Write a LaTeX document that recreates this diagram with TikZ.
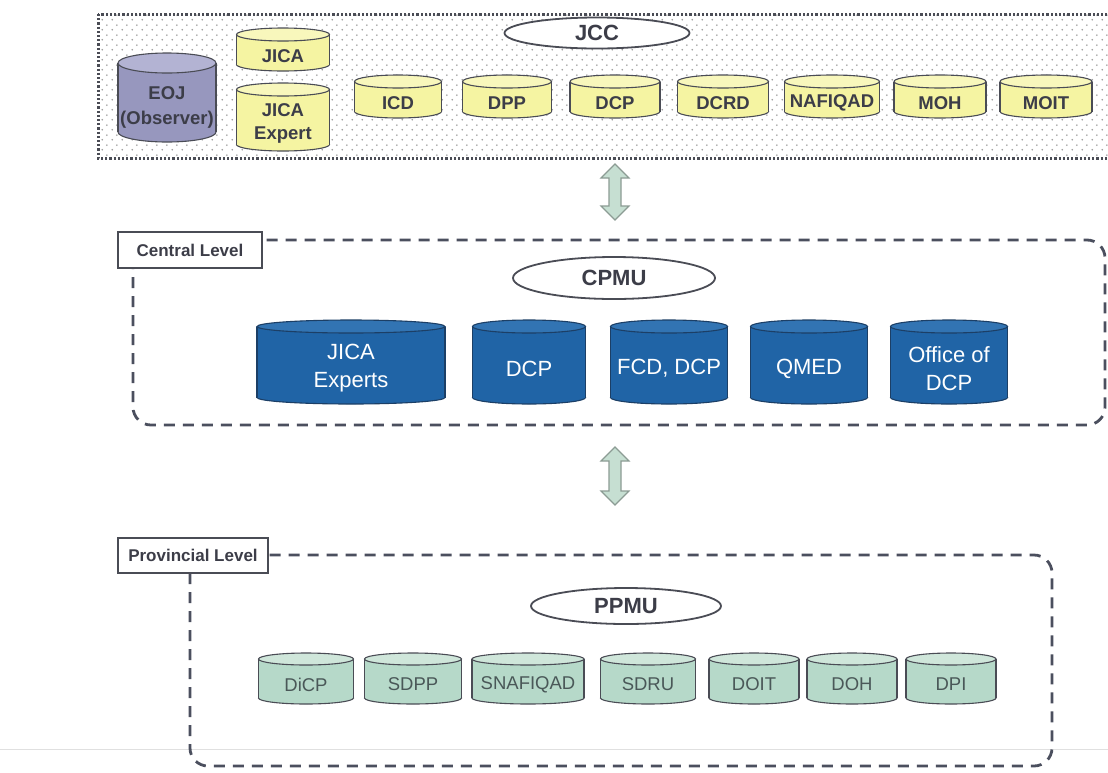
\documentclass[tikz,border=0pt]{standalone}
\usepackage{fontspec}
\setmainfont{Liberation Sans}
\usetikzlibrary{shapes.geometric,patterns.meta}

\definecolor{cText}{HTML}{3C3D48}
\definecolor{cEdge}{HTML}{4A4C55}
\definecolor{cDash}{HTML}{4B4F5E}
\definecolor{cYelBody}{HTML}{F5F4A2}
\definecolor{cYelTop}{HTML}{F8F7BC}
\definecolor{cEojBody}{HTML}{9797BE}
\definecolor{cEojTop}{HTML}{B3B3D3}
\definecolor{cBluBody}{HTML}{2064A6}
\definecolor{cBluTop}{HTML}{3274B3}
\definecolor{cBluEdge}{HTML}{1C3F66}
\definecolor{cGrnBody}{HTML}{B6D9C9}
\definecolor{cGrnTop}{HTML}{CFE6DA}
\definecolor{cGrnText}{HTML}{4A5858}
\definecolor{cArrow}{HTML}{C6DFD2}
\definecolor{cArrowEdge}{HTML}{8C9C94}

\tikzdeclarepattern{
  name=jccdots,
  type=uncolored,
  bounding box={(0pt,0pt) and (10pt,10pt)},
  tile size={(10pt,10pt)},
  code={\pgfpathcircle{\pgfpoint{2.5pt}{2.5pt}}{0.95pt}\pgfusepath{fill}
        \pgfpathcircle{\pgfpoint{7.5pt}{7.5pt}}{0.95pt}\pgfusepath{fill}}
}

\tikzset{
  cylline/.style={line width=1.1pt},
  yelbody/.style={cylline, draw=cEdge, fill=cYelBody},
  yeltop/.style={cylline, draw=cEdge, fill=cYelTop},
  yeltext/.style={font=\bfseries\fontsize{18.5}{23}\selectfont, text=cText, align=center, inner sep=0pt},
  eojbody/.style={cylline, draw=cEdge, fill=cEojBody},
  eojtop/.style={cylline, draw=cEdge, fill=cEojTop},
  eojtext/.style={font=\bfseries\fontsize{18.5}{25}\selectfont, text=cText, align=center, inner sep=0pt},
  blubody/.style={cylline, draw=cBluEdge, fill=cBluBody},
  blutop/.style={cylline, draw=cBluEdge, fill=cBluTop},
  blutext/.style={font=\fontsize{22}{28}\selectfont, text=white, align=center, inner sep=0pt},
  grnbody/.style={cylline, draw=cEdge, fill=cGrnBody},
  grntop/.style={cylline, draw=cEdge, fill=cGrnTop},
  grntext/.style={font=\fontsize{18.5}{21}\selectfont, text=cGrnText, align=center, inner sep=0pt},
  unitoval/.style={ellipse, draw=cEdge, line width=1.8pt, fill=white, inner sep=0pt,
                   font=\bfseries\fontsize{22}{24}\selectfont, text=cText},
  levelbox/.style={rectangle, draw=cEdge, line width=1.4pt, fill=white, inner sep=0pt,
                   font=\bfseries\fontsize{17}{19}\selectfont, text=cText},
  levelframe/.style={draw=cDash, line width=2.8pt, dash pattern=on 11pt off 8pt, rounded corners=18pt},
  jccframe/.style={draw=cEdge, line width=3pt, dash pattern=on 2.2pt off 2pt,
                   pattern={jccdots}, pattern color=black!40},
  fatarrow/.style={draw=cArrowEdge, line width=1.2pt, fill=cArrow, line join=miter},
}

% name, cx, outer top, outer bottom, width, family, text, end radius
\newcommand{\cylnode}[8]{%
  \pgfmathsetmacro\cylRx{#5/2}%
  \pgfmathsetmacro\cylT{#3+#8}%
  \pgfmathsetmacro\cylB{#4-#8}%
  \pgfmathsetmacro\cylL{#2-#5/2}%
  \pgfmathsetmacro\cylRr{#2+#5/2}%
  \pgfmathsetmacro\cylM{(#3+#4)/2+#8}%
  \filldraw[#6body] (#2,\cylB) ellipse [x radius=\cylRx pt, y radius=#8 pt];
  \fill[#6body, draw=none] (\cylL,\cylT) rectangle (\cylRr,\cylB);
  \draw[#6body, fill=none] (\cylL,\cylT) -- (\cylL,\cylB) (\cylRr,\cylT) -- (\cylRr,\cylB);
  \filldraw[#6top] (#2,\cylT) ellipse [x radius=\cylRx pt, y radius=#8 pt];
  \node[#6text] (#1) at (#2,\cylM) {#7};
}

\begin{document}
\begin{tikzpicture}[x=1pt, y=-1pt]
\useasboundingbox (0,0) rectangle (1108,772);
\clip (0,0) rectangle (1108,772);
\fill[white] (0,0) rectangle (1108,772);

% faint scan line
\draw[black!12, line width=0.8pt] (0,749) -- (1108,749);

% ===== JCC level =====
\draw[jccframe] (98,14) rectangle (1116,158);
\node[unitoval, minimum width=185pt, minimum height=31pt] (jcc) at (597,33) {JCC};

\cylnode{eoj}{167}{53}{142}{98}{eoj}{EOJ\\(Observer)}{10}
\cylnode{jica}{283}{28}{71}{93}{yel}{JICA}{6.5}
\cylnode{jicaexp}{283}{83}{151}{93}{yel}{JICA\\Expert}{6.5}
\cylnode{icd}{398}{75}{118}{87}{yel}{ICD}{6.5}
\cylnode{dpp}{507}{75}{118}{89}{yel}{DPP}{6.5}
\cylnode{dcpj}{615}{75}{118}{90}{yel}{DCP}{6.5}
\cylnode{dcrd}{723}{75}{118}{91}{yel}{DCRD}{6.5}
\cylnode{nafiqad}{832}{75}{118}{95}{yel}{NAFIQAD}{6.5}
\cylnode{moh}{940}{75}{118}{92}{yel}{MOH}{6.5}
\cylnode{moit}{1046}{75}{118}{92}{yel}{MOIT}{6.5}

% ===== Central level =====
\draw[levelframe] (133,240) rectangle (1105,425);
\node[levelbox, minimum width=144pt, minimum height=36pt] (central) at (190,250) {Central Level};
\node[unitoval, minimum width=202pt, minimum height=42pt] (cpmu) at (614,278) {CPMU};

\cylnode{jicaexperts}{351}{320}{404}{188}{blu}{JICA\\Experts}{6.5}
\cylnode{dcpc}{529}{320}{404}{113}{blu}{DCP}{6.5}
\cylnode{fcd}{669}{320}{404}{117}{blu}{FCD, DCP}{6.5}
\cylnode{qmed}{809}{320}{404}{117}{blu}{QMED}{6.5}
\cylnode{office}{949}{320}{404}{117}{blu}{Office of\\DCP}{6.5}

% ===== Provincial level =====
\draw[levelframe] (190,555) rectangle (1052,766);
\node[levelbox, minimum width=150pt, minimum height=35pt] (provincial) at (193,555.5) {Provincial Level};
\node[unitoval, minimum width=190pt, minimum height=36pt] (ppmu) at (626,606) {PPMU};

\cylnode{dicp}{306}{653}{704}{95}{grn}{DiCP}{6}
\cylnode{sdpp}{413}{653}{704}{97}{grn}{SDPP}{6}
\cylnode{snafiqad}{528}{653}{704}{112}{grn}{SNAFIQAD}{6}
\cylnode{sdru}{648}{653}{704}{95}{grn}{SDRU}{6}
\cylnode{doit}{754}{653}{704}{90}{grn}{DOIT}{6}
\cylnode{doh}{852}{653}{704}{90}{grn}{DOH}{6}
\cylnode{dpi}{951}{653}{704}{90}{grn}{DPI}{6}

% ===== link arrows =====
\coordinate (arrA) at (615,192);
\coordinate (arrB) at (615,476);
\draw[fatarrow] (arrA) ++(0,-28) -- ++(14,14) -- ++(-8,0) -- ++(0,28) -- ++(8,0)
  -- ++(-14,14) -- ++(-14,-14) -- ++(8,0) -- ++(0,-28) -- ++(-8,0) -- cycle;
\draw[fatarrow] (arrB) ++(0,-29) -- ++(14,14) -- ++(-8,0) -- ++(0,30) -- ++(8,0)
  -- ++(-14,14) -- ++(-14,-14) -- ++(8,0) -- ++(0,-30) -- ++(-8,0) -- cycle;
\end{tikzpicture}
\end{document}
